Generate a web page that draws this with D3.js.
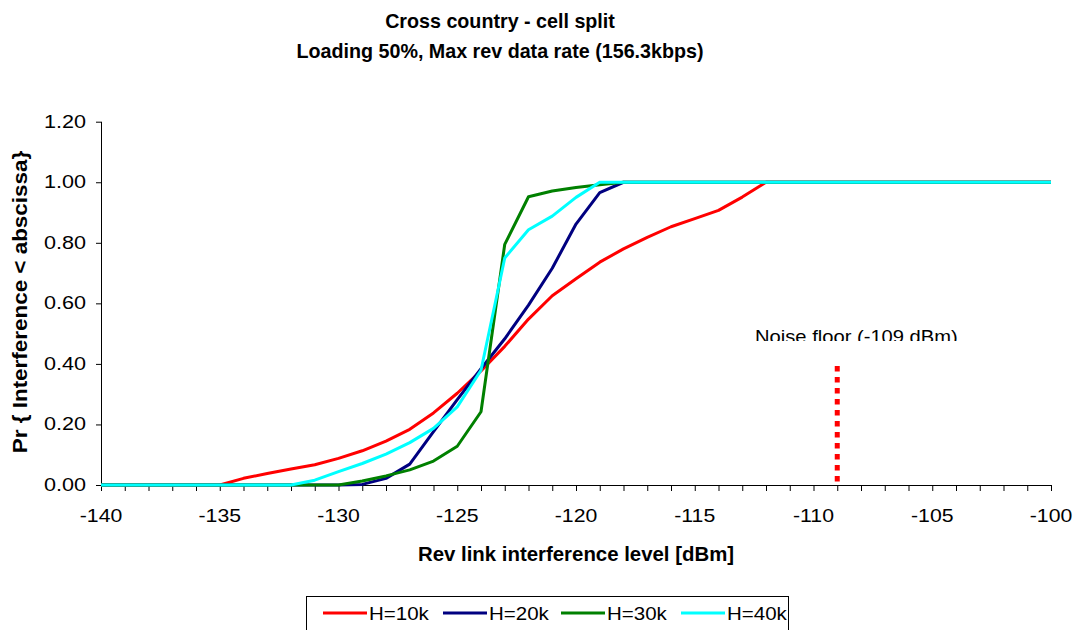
<!DOCTYPE html>
<html>
<head>
<meta charset="utf-8">
<script src="https://cdn.jsdelivr.net/npm/d3@7"></script>
<style>
  body { margin: 0; background: #fff; }
  svg { display: block; font-family: Arial, "Liberation Sans", sans-serif; }
</style>
</head>
<body>
<svg id="chart" width="1078" height="630"></svg>
<script>
// interference level (dBm), one point per dB
var levels = [-140, -139, -138, -137, -136, -135, -134, -133, -132, -131,
              -130, -129, -128, -127, -126, -125, -124, -123, -122, -121,
              -120, -119, -118, -117, -116, -115, -114, -113, -112, -111,
              -110, -109, -108, -107, -106, -105, -104, -103, -102, -101, -100];

var h10k = [0, 0, 0, 0, 0, 0, 0.022, 0.038, 0.053, 0.067,
            0.088, 0.113, 0.145, 0.184, 0.238, 0.303, 0.377, 0.458, 0.548, 0.625,
            0.681, 0.736, 0.780, 0.818, 0.853, 0.880, 0.907, 0.951, 1, 1,
            1, 1, 1, 1, 1, 1, 1, 1, 1, 1, 1];
var h20k = [0, 0, 0, 0, 0, 0, 0, 0, 0, 0,
            0, 0.002, 0.022, 0.069, 0.176, 0.282, 0.384, 0.483, 0.594, 0.716,
            0.862, 0.966, 1, 1, 1, 1, 1, 1, 1, 1,
            1, 1, 1, 1, 1, 1, 1, 1, 1, 1, 1];
var h30k = [0, 0, 0, 0, 0, 0, 0, 0, 0, 0,
            0, 0.013, 0.030, 0.050, 0.079, 0.128, 0.242, 0.795, 0.952, 0.971,
            0.983, 0.992, 1, 1, 1, 1, 1, 1, 1, 1,
            1, 1, 1, 1, 1, 1, 1, 1, 1, 1, 1];
var h40k = [0, 0, 0, 0, 0, 0, 0, 0, 0, 0.016,
            0.044, 0.071, 0.102, 0.140, 0.187, 0.258, 0.379, 0.750, 0.843, 0.888,
            0.950, 1, 1, 1, 1, 1, 1, 1, 1, 1,
            1, 1, 1, 1, 1, 1, 1, 1, 1, 1, 1];

var seriesNames = ["H=10k", "H=20k", "H=30k", "H=40k"];
var seriesValues = [h10k, h20k, h30k, h40k];
var seriesColors = ["#ff0000", "#000080", "#008000", "#00ffff"];

var xTicks = [-140, -135, -130, -125, -120, -115, -110, -105, -100];
var yTicks = [0, 0.2, 0.4, 0.6, 0.8, 1.0, 1.2];

var noiseFloor = -109;
var noiseTop = 0.4;
var noiseLabel = "Noise floor (-109 dBm)";

var titleLines = ["Cross country - cell split", "Loading 50%, Max rev data rate (156.3kbps)"];
var xTitle = "Rev link interference level [dBm]";
var yTitle = "Pr { Interference < abscissa}";

var svg = d3.select("#chart");

var x = d3.scaleLinear().domain([-140, -100]).range([101, 1051]);
var y = d3.scaleLinear().domain([0, 1.2]).range([485, 121.7]);

// the original text is a bit wider than plain Arial, so stretch it sideways
function addText(parent, px, py, str, size, sx, anchor, weight, rot) {
  return parent.append("text")
    .attr("transform", "translate(" + px + "," + py + ")" + (rot ? " rotate(" + rot + ")" : "") + " scale(" + sx + ",1)")
    .attr("text-anchor", anchor || "start")
    .style("font-size", size + "px")
    .style("font-weight", weight || "normal")
    .text(str);
}

// titles
titleLines.forEach((t, i) => addText(svg, 500, 28 + i * 30, t, 19.7, 1, "middle", "bold"));

// axes
var xAxis = svg.append("g")
  .attr("transform", "translate(0," + y(0) + ")")
  .call(d3.axisBottom(x).tickValues(levels).tickSize(6).tickFormat(""));
xAxis.select(".domain").attr("d", "M" + x(-140) + ",0.5H" + x(-100));
xAxis.selectAll(".tick line").attr("stroke", "#000");

var yAxis = svg.append("g")
  .attr("transform", "translate(" + x(-140) + ",0)")
  .call(d3.axisLeft(y).tickValues(yTicks).tickSize(5).tickFormat(""));
yAxis.select(".domain").attr("d", "M0.5," + y(1.2) + "V" + y(0));

var tickFmt = d3.format(".2f");
xTicks.forEach(d => addText(svg, x(d), y(0) + 37, d, 18, 1.18, "middle"));
yTicks.forEach(d => addText(svg, 86, y(d) + 6, tickFmt(d), 18, 1.2, "end"));

addText(svg, 576, 561, xTitle, 20.4, 1, "middle", "bold");
addText(svg, 27, 302, yTitle, 20.4, 1.1, "middle", "bold", -90);

// noise floor marker, label is cut off at the bottom like the original
svg.append("line")
  .attr("x1", x(noiseFloor)).attr("x2", x(noiseFloor))
  .attr("y1", y(noiseTop) + 2).attr("y2", y(0) - 3)
  .attr("stroke", "#ff0000")
  .attr("stroke-width", 5)
  .attr("stroke-dasharray", "5.5,5.5");

svg.append("clipPath").attr("id", "noiseClip")
  .append("rect").attr("x", 700).attr("y", 300).attr("width", 320).attr("height", 41);

addText(svg.append("g").attr("clip-path", "url(#noiseClip)"), 755, 343, noiseLabel, 18, 1.12);

// curves
var line = d3.line()
  .x((d, i) => x(levels[i]))
  .y(d => y(d));

svg.selectAll(".series")
  .data(seriesValues)
  .enter().append("path")
    .attr("fill", "none")
    .attr("stroke", (d, i) => seriesColors[i])
    .attr("stroke-width", 3)
    .attr("stroke-linejoin", "round")
    .attr("d", line);

// legend (bottom part falls outside the picture)
svg.append("rect")
  .attr("x", 306.5).attr("y", 596.5)
  .attr("width", 482).attr("height", 60)
  .attr("fill", "#fff")
  .attr("stroke", "#000");

var legendX = [323, 443, 561, 681];
seriesNames.forEach((name, i) => {
  let g = svg.append("g").attr("transform", "translate(" + legendX[i] + ",613)");
  g.append("line")
    .attr("x1", 0).attr("x2", 44)
    .attr("stroke", seriesColors[i])
    .attr("stroke-width", 3);
  addText(g, 46, 6.5, name, 18, 1.14);
});
</script>
</body>
</html>
